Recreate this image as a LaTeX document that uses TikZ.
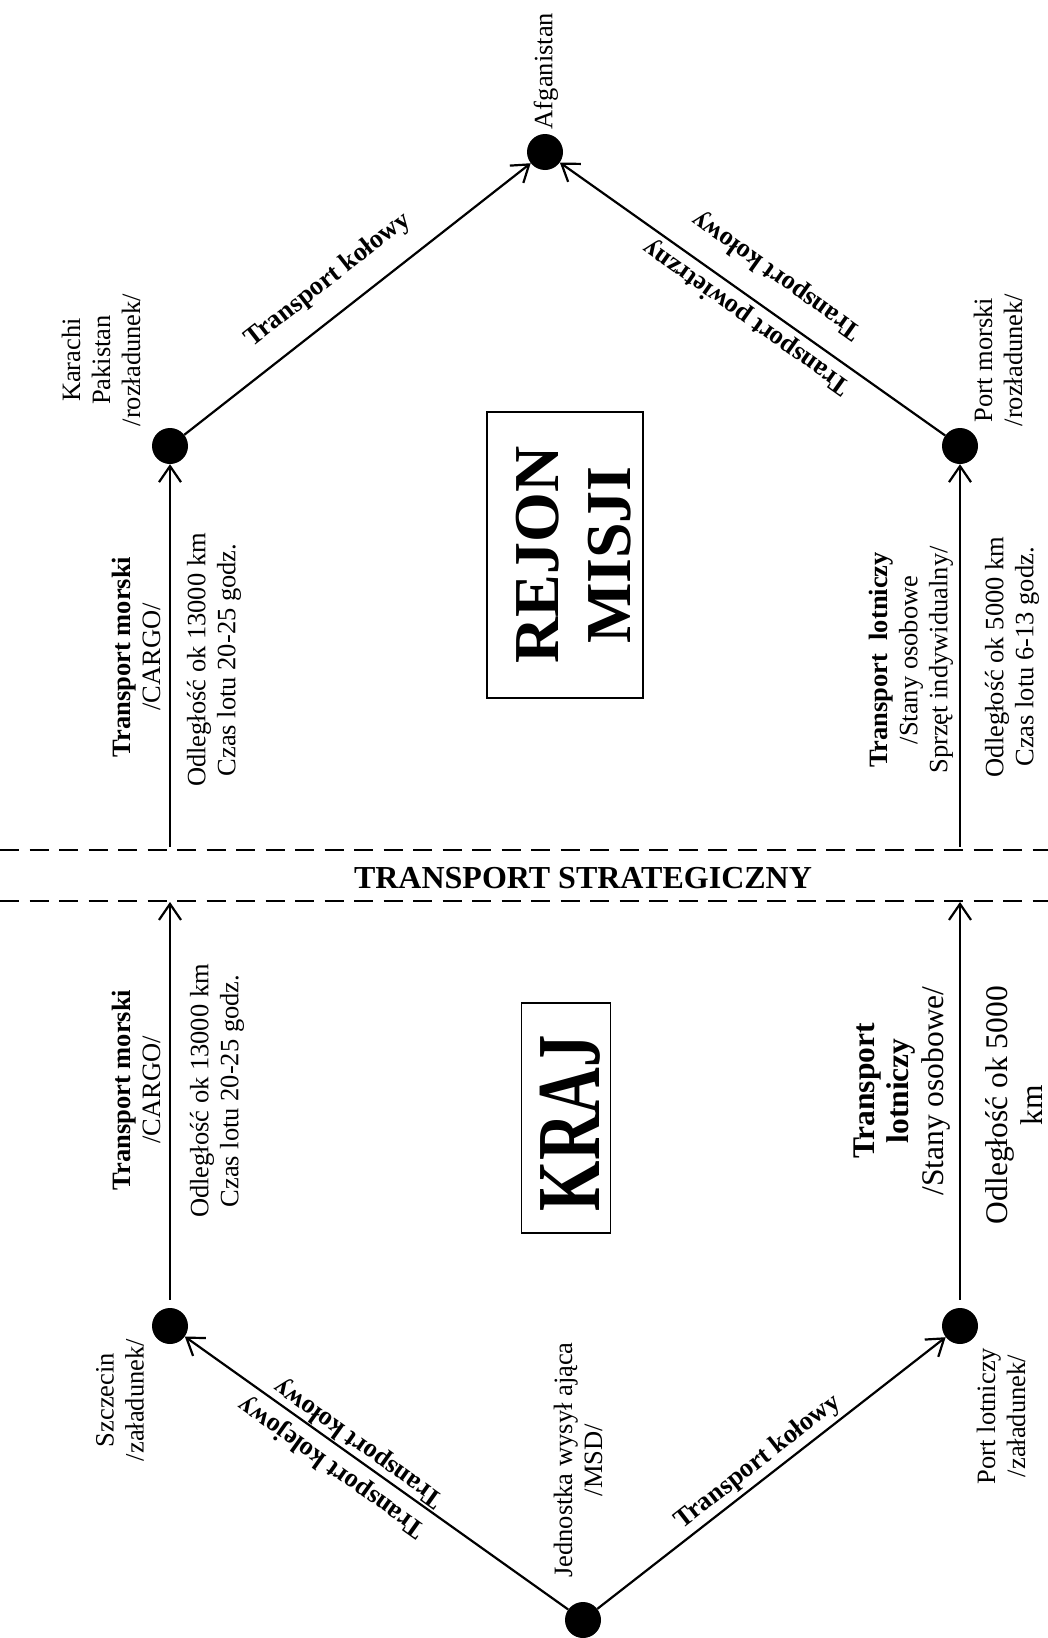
\documentclass[tikz,border=0pt]{standalone}
\usepackage{fontspec}
\usepackage{graphicx}
\setmainfont{Liberation Serif}
\usetikzlibrary{arrows.meta}

\begin{document}
\begin{tikzpicture}[x=1pt,y=-1pt,
  dot/.style={circle,fill=black,inner sep=0pt,minimum size=36pt},
  lbl/.style={font=\fontsize{26.5}{30}\selectfont,align=center,inner sep=0pt},
  vlbl/.style={lbl,rotate=90},
  biglbl/.style={font=\fontsize{31.5}{34.5}\selectfont,align=center,inner sep=0pt,rotate=90},
  dlbl/.style={font=\fontsize{26.5}{30}\selectfont\bfseries,inner sep=0pt},
  conn/.style={line width=2.2pt,-{Straight Barb[length=16pt,width=22pt,line width=2.2pt]}},
  divider/.style={line width=2.4pt,dash pattern=on 19pt off 10.5pt},
  region/.style={draw,line width=1.6pt,inner sep=0pt},
]
\useasboundingbox (0,0) rectangle (1048,1638);

% dividing band of strategic transport
\coordinate (d1l) at (0,850);
\coordinate (d1r) at (1048,850);
\coordinate (d2l) at (0,901);
\coordinate (d2r) at (1048,901);
\draw[divider] (d1l) -- (d1r);
\draw[divider] (d2l) -- (d2r);
\node[font=\fontsize{32}{36}\selectfont\bfseries,inner sep=0pt] (strat) at (583,878) {TRANSPORT STRATEGICZNY};

% points of the route
\node[dot] (afg) at (545,152) {};
\node[dot] (kar) at (170,446) {};
\node[dot] (pm)  at (960,446) {};
\node[dot] (szc) at (170,1326) {};
\node[dot] (pl)  at (960,1326) {};
\node[dot] (jed) at (583,1620) {};

% ends of the connectors at the dividing band
\coordinate (karB) at (170,847);
\coordinate (pmB)  at (960,847);
\coordinate (szcB) at (170,902);
\coordinate (plB)  at (960,902);

% connectors
\draw[conn] (kar) -- (afg);
\draw[conn] (pm) -- (afg);
\draw[conn] (karB) -- (kar);
\draw[conn] (pmB) -- (pm);
\draw[conn,shorten <=8pt] (szc) -- (szcB);
\draw[conn,shorten <=8pt] (pl) -- (plB);
\draw[conn] (jed) -- (szc);
\draw[conn] (jed) -- (pl);

% names of the points
\node[vlbl] (afgL) at (546,71) {Afganistan};
\node[vlbl] (karL) at (101,360) {Karachi\\Pakistan\\/rozładunek/};
\node[vlbl] (pmL)  at (998,360) {Port morski\\/rozładunek/};
\node[vlbl] (szcL) at (120,1400) {Szczecin\\/załadunek/};
\node[vlbl] (jedL) at (578,1460) {Jednostka wysył ająca\\/MSD/};
\node[vlbl] (plL)  at (1001,1416) {Port lotniczy\\/załadunek/};

% sea transport
\node[vlbl] (seaUpA) at (136,657) {\textbf{Transport morski}\\/CARGO/};
\node[vlbl] (seaUpB) at (214,660) {Odległość ok 13000 km\\Czas lotu 20-25 godz.};
\node[vlbl] (seaLoA) at (136,1090) {\textbf{Transport morski}\\/CARGO/};
\node[vlbl] (seaLoB) at (217,1091) {Odległość ok 13000 km\\Czas lotu 20-25 godz.};

% air transport
\node[vlbl] (airUpA) at (911,660) {\textbf{Transport\ \ lotniczy}\\/Stany osobowe\\Sprzęt indywidualny/};
\node[vlbl] (airUpB) at (1012,657) {Odległość ok 5000 km\\Czas lotu 6-13 godz.};
\node[biglbl] (airLoA) at (902,1091) {\textbf{Transport}\\\textbf{lotniczy}\\/Stany osobowe/};
\node[biglbl] (airLoB) at (1014,1105) {Odległość ok 5000\\km};

% road and rail transport
\node[dlbl,rotate=38] (roadK) at (328,280) {Transport kołowy};
\node[dlbl,rotate=144.6] (roadP) at (777,275) {Transport kołowy};
\node[dlbl,rotate=144.6] (airP) at (747,317) {Transport powietrzny};
\node[dlbl,rotate=144.5] (roadS) at (359,1443) {Transport kołowy};
\node[dlbl,rotate=144.5] (railS) at (332,1467) {Transport kolejowy};
\node[dlbl,rotate=38] (roadL) at (758,1462) {Transport kołowy};

% regions
\node[region,rotate=90,minimum width=286pt,minimum height=156pt] (rejonBox) at (565,555) {};
\node[rotate=90,align=center,inner sep=0pt,font=\fontsize{64}{72}\selectfont\bfseries] (rejonT) at (574,555) {REJON\\MISJI};
\node[region,rotate=90,minimum width=230pt,minimum height=89pt] (krajBox) at (566,1118) {};
\node[rotate=90,inner sep=0pt,font=\fontsize{90}{96}\selectfont\bfseries] (krajT) at (570,1123) {\scalebox{0.72}[1]{KRAJ}};
\end{tikzpicture}
\end{document}
